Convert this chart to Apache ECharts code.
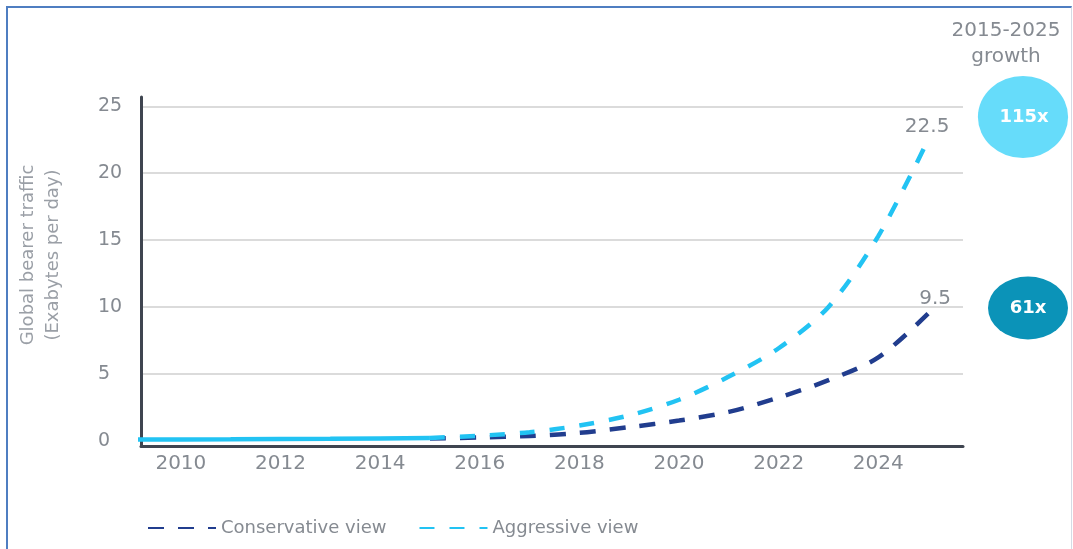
<!DOCTYPE html>
<html>
<head>
<meta charset="utf-8">
<script src="https://cdn.jsdelivr.net/npm/echarts@6/dist/echarts.min.js"></script>
<style>
  html, body { margin: 0; padding: 0; background: #ffffff; }
  #chart { position: absolute; left: 0; top: 0; width: 1073px; height: 549px; }
  #frame {
    position: absolute; left: 6px; top: 6px; width: 1066px; height: 560px;
    box-sizing: border-box; pointer-events: none;
    border-top: 2px solid #4f7ec1; border-left: 2px solid #4f7ec1; border-right: 1px solid #d5dbe5;
  }
</style>
</head>
<body>
<div id="chart"></div>
<div id="frame"></div>
<script>
// Measured traffic up to 2015 (exabytes per day)
const historyYears = [2009, 2010, 2011, 2012, 2013, 2014, 2015];
const historyTraffic = [0.08, 0.09, 0.1, 0.12, 0.14, 0.17, 0.2];

// Projections 2015-2025
const projectionYears = [2015, 2016, 2017, 2018, 2019, 2020, 2021, 2022, 2023, 2024, 2025];
const conservativeView = [0.16, 0.24, 0.35, 0.58, 1.01, 1.5, 2.15, 3.22, 4.52, 6.22, 9.5];
const aggressiveView = [0.2, 0.37, 0.63, 1.13, 1.89, 3.06, 4.79, 6.91, 10.0, 15.3, 22.5];

// Axis ticks
const xTickLabels = [2010, 2012, 2014, 2016, 2018, 2020, 2022, 2024];
const yTickLabels = [0, 5, 10, 15, 20, 25];
const yGridValues = [5, 10, 15, 20, 25];

// 2015-2025 growth multiples
const growthLabels = ['115x', '61x'];

const seriesNames = ['Conservative view', 'Aggressive view'];
const axisTitle = ['Global bearer traffic', '(Exabytes per day)'];
const growthTitle = ['2015-2025', 'growth'];

const zip = (xs, ys) => xs.map((x, i) => [x, ys[i]]);

const FONT = '"DejaVu Sans", "Noto Sans", sans-serif';
const CYAN = '#22c3f3';
const NAVY = '#213d8e';
const TEXT = '#858a91';

const chart = echarts.init(document.getElementById('chart'), null, { renderer: 'canvas' });

const endLabel = (dx, dy) => ({
  show: true,
  formatter: p => String(p.value[1]),
  color: TEXT,
  fontFamily: FONT,
  fontSize: 20,
  align: 'center',
  verticalAlign: 'bottom',
  distance: 0,
  offset: [dx, dy]
});

chart.setOption({
  animation: false,
  backgroundColor: '#ffffff',
  grid: { left: 141, right: 110, top: 97, bottom: 103 },
  xAxis: {
    type: 'value',
    min: 2009.2,
    max: 2025.7,
    axisLine: { show: true, onZero: false, lineStyle: { color: '#3f4550', width: 3 } },
    axisTick: { show: false },
    splitLine: { show: false },
    axisLabel: {
      customValues: xTickLabels,
      formatter: v => String(v),
      color: TEXT,
      fontFamily: FONT,
      fontSize: 20,
      margin: 8
    }
  },
  yAxis: {
    type: 'value',
    min: -0.4,
    max: 25.7,
    axisLine: { show: true, onZero: false, lineStyle: { color: '#3f4550', width: 3 } },
    axisTick: { show: false, customValues: yGridValues },
    splitLine: { show: true, lineStyle: { color: '#cfcfcf', width: 1.5 } },
    axisLabel: {
      customValues: yTickLabels,
      formatter: v => String(v),
      color: TEXT,
      fontFamily: FONT,
      fontSize: 19,
      align: 'left',
      margin: 43,
      padding: [6, 0, 0, 0]
    }
  },
  legend: {
    data: seriesNames,
    left: 147,
    top: 519,
    padding: 0,
    itemWidth: 68,
    itemHeight: 14,
    itemGap: 32,
    itemStyle: { opacity: 0 },
    textStyle: { color: TEXT, fontFamily: FONT, fontSize: 18 }
  },
  series: [
    {
      name: seriesNames[0],
      type: 'line',
      data: zip(projectionYears, conservativeView),
      symbol: 'none',
      smooth: 0.3,
      lineStyle: { color: NAVY, width: 4.5, type: [16, 14] },
      itemStyle: { color: NAVY },
      endLabel: endLabel(7, -5),
      z: 2
    },
    {
      name: seriesNames[1],
      type: 'line',
      data: zip(projectionYears, aggressiveView),
      symbol: 'none',
      smooth: 0.3,
      lineStyle: { color: CYAN, width: 4.5, type: [15, 15] },
      itemStyle: { color: CYAN },
      endLabel: endLabel(-1, -3),
      z: 3
    },
    {
      name: 'History',
      type: 'line',
      data: zip(historyYears, historyTraffic),
      symbol: 'none',
      lineStyle: { color: CYAN, width: 4.5 },
      itemStyle: { color: CYAN },
      z: 4
    }
  ],
  graphic: [
    {
      type: 'text', x: 41, y: 255, rotation: Math.PI / 2,
      style: {
        text: axisTitle.join('\n'), fill: '#9a9fa6', font: '18px ' + FONT,
        align: 'center', verticalAlign: 'middle', lineHeight: 25
      }
    },
    {
      type: 'text', x: 1006, y: 44,
      style: {
        text: growthTitle.join('\n'), fill: TEXT, font: '20px ' + FONT,
        align: 'center', verticalAlign: 'middle', lineHeight: 26
      }
    },
    {
      type: 'circle', x: 1023, y: 117, scaleX: 1.1,
      shape: { cx: 0, cy: 0, r: 41 },
      style: { fill: '#66dcfa' }
    },
    {
      type: 'text', x: 1024, y: 117,
      style: {
        text: growthLabels[0], fill: '#ffffff', font: 'bold 18px ' + FONT,
        align: 'center', verticalAlign: 'middle'
      }
    },
    {
      type: 'circle', x: 1028, y: 308, scaleX: 1.27,
      shape: { cx: 0, cy: 0, r: 31.5 },
      style: { fill: '#0b93b8' }
    },
    {
      type: 'text', x: 1028, y: 308,
      style: {
        text: growthLabels[1], fill: '#ffffff', font: 'bold 18px ' + FONT,
        align: 'center', verticalAlign: 'middle'
      }
    }
  ]
});
</script>
</body>
</html>
